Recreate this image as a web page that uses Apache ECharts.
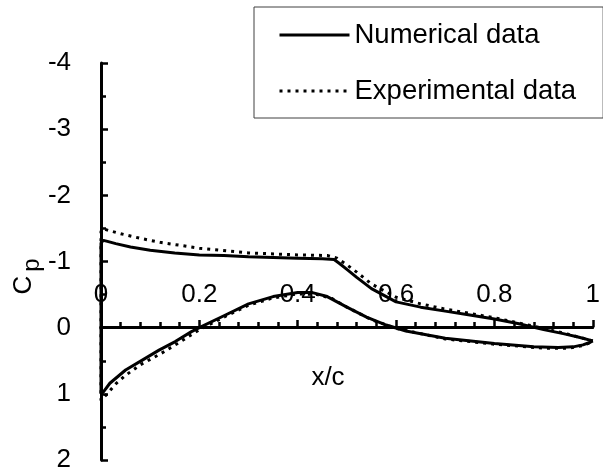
<!DOCTYPE html>
<html>
<head>
<meta charset="utf-8">
<script src="https://cdn.jsdelivr.net/npm/echarts@6/dist/echarts.min.js"></script>
<style>
  html, body { margin: 0; padding: 0; background: #fff; }
  #chart { width: 603px; height: 473px; }
</style>
</head>
<body>
<div id="chart"></div>
<script>
// Pressure coefficient around the aerofoil, traced trailing edge -> upper surface ->
// leading edge -> lower surface -> trailing edge.
const xNumerical = [1.0, 0.97, 0.94, 0.90, 0.85, 0.80, 0.75, 0.70, 0.65, 0.60, 0.55, 0.52, 0.50, 0.485, 0.474,
  0.45, 0.40, 0.35, 0.30, 0.25, 0.20, 0.15, 0.10, 0.06, 0.03, 0.015, 0.005, 0.0,
  0.0, 0.005, 0.018, 0.05, 0.084, 0.118, 0.151, 0.184, 0.20, 0.25, 0.30, 0.35, 0.40, 0.43, 0.46, 0.50,
  0.54, 0.58, 0.62, 0.70, 0.80, 0.88, 0.93, 0.96, 0.98, 0.995, 1.0];
const cpNumerical = [0.20, 0.14, 0.09, 0.03, -0.06, -0.13, -0.19, -0.25, -0.31, -0.39, -0.59, -0.76, -0.88, -0.97, -1.03,
  -1.04, -1.05, -1.06, -1.07, -1.09, -1.10, -1.13, -1.17, -1.22, -1.27, -1.30, -1.32, -1.28,
  1.0, 0.97, 0.84, 0.64, 0.49, 0.34, 0.21, 0.06, 0.0, -0.18, -0.36, -0.47, -0.53, -0.53, -0.47, -0.31,
  -0.16, -0.04, 0.05, 0.16, 0.24, 0.29, 0.30, 0.29, 0.26, 0.22, 0.20];

const xExperimental = [1.0, 0.95, 0.90, 0.85, 0.80, 0.70, 0.65, 0.60, 0.55, 0.52, 0.50, 0.48, 0.46,
  0.40, 0.30, 0.20, 0.12, 0.08, 0.04, 0.015, 0.003, 0.0,
  0.0, 0.004, 0.015, 0.03, 0.05, 0.08, 0.12, 0.16, 0.20, 0.25, 0.30, 0.35, 0.40, 0.44, 0.47, 0.50,
  0.55, 0.60, 0.70, 0.80, 0.90, 0.95, 0.98, 1.0];
const cpExperimental = [0.20, 0.10, 0.01, -0.07, -0.15, -0.28, -0.36, -0.46, -0.66, -0.84, -0.95, -1.05, -1.09,
  -1.10, -1.13, -1.20, -1.29, -1.35, -1.42, -1.47, -1.50, -1.45,
  1.1, 1.1, 0.98, 0.85, 0.72, 0.56, 0.40, 0.22, 0.03, -0.16, -0.34, -0.45, -0.51, -0.50, -0.44, -0.31,
  -0.12, 0.01, 0.17, 0.25, 0.31, 0.31, 0.27, 0.21];

const xTicks = [0, 0.2, 0.4, 0.6, 0.8, 1];
const seriesNames = ['Numerical data', 'Experimental data'];

const zip = (xs, ys) => xs.map((x, i) => [x, ys[i]]);

const FONT = 'Liberation Sans, Arial, sans-serif';
const GRID_TOP = 63, GRID_BOTTOM = 11, H = 473;
const Y_MIN = -4, Y_MAX = 2;
// vertical distance from the grid's bottom edge up to Cp = 0 (the x axis sits there)
const plotH = H - GRID_TOP - GRID_BOTTOM;
const zeroOffset = -plotH * (Y_MAX - 0) / (Y_MAX - Y_MIN);

const chart = echarts.init(document.getElementById('chart'), null, { renderer: 'canvas' });

chart.setOption({
  animation: false,
  backgroundColor: '#fff',
  textStyle: { fontFamily: FONT, color: '#000' },
  grid: { left: 101, right: 2, top: GRID_TOP, bottom: GRID_BOTTOM, containLabel: false },
  legend: {
    data: seriesNames,
    orient: 'vertical',
    left: 254,
    top: 7,
    padding: [14, 27, 13, 24],
    itemGap: 28,
    itemWidth: 70,
    itemHeight: 24,
    borderColor: '#404040',
    borderWidth: 1,
    lineStyle: { width: 3 },
    itemStyle: { color: 'rgba(0,0,0,0)', borderColor: 'rgba(0,0,0,0)', borderWidth: 0, opacity: 0 },
    textStyle: { fontFamily: FONT, fontSize: 27.5, color: '#000' }
  },
  xAxis: {
    type: 'value',
    position: 'bottom',
    offset: zeroOffset,
    min: 0,
    max: 1,
    interval: 0.2,
    axisLine: { onZero: false, lineStyle: { color: '#000', width: 3 } },
    axisTick: { inside: true, length: 7, lineStyle: { color: '#000', width: 2.5 } },
    minorTick: { show: true, splitNumber: 5, length: 5, lineStyle: { color: '#000', width: 2.5 } },
    splitLine: { show: false },
    axisLabel: {
      inside: true,
      margin: 19,
      fontFamily: FONT,
      fontSize: 26,
      color: '#000',
      showMaxLabel: true,
      showMinLabel: true,
      formatter: v => {
        const t = xTicks.find(k => Math.abs(k - v) < 1e-9);
        return t === undefined ? '' : String(t);
      }
    }
  },
  yAxis: {
    type: 'value',
    inverse: true,
    min: Y_MIN,
    max: Y_MAX,
    interval: 1,
    axisLine: { onZero: false, lineStyle: { color: '#000', width: 3 } },
    axisTick: { inside: true, length: 7, lineStyle: { color: '#000', width: 2.5 } },
    minorTick: { show: true, splitNumber: 2, length: 5, lineStyle: { color: '#000', width: 2.5 } },
    splitLine: { show: false },
    axisLabel: { margin: 30, fontFamily: FONT, fontSize: 26, color: '#000' }
  },
  series: [
    {
      name: seriesNames[0],
      type: 'line',
      symbol: 'none',
      clip: false,
      z: 3,
      lineStyle: { color: '#000', width: 3 },
      itemStyle: { color: '#000' },
      data: zip(xNumerical, cpNumerical)
    },
    {
      name: seriesNames[1],
      type: 'line',
      symbol: 'none',
      clip: false,
      z: 4,
      lineStyle: { color: '#000', width: 3, type: [3, 5] },
      itemStyle: { color: '#000' },
      data: zip(xExperimental, cpExperimental)
    }
  ],
  graphic: [
    {
      type: 'text',
      x: 24, y: 285,
      rotation: Math.PI / 2,
      style: { text: 'C', font: '26px ' + FONT, fill: '#000', align: 'center', verticalAlign: 'middle' }
    },
    {
      type: 'text',
      x: 32, y: 265,
      rotation: Math.PI / 2,
      style: { text: 'p', font: '24px ' + FONT, fill: '#000', align: 'center', verticalAlign: 'middle' }
    },
    {
      type: 'text',
      x: 328, y: 378,
      style: { text: 'x/c', font: '26px ' + FONT, fill: '#000', align: 'center', verticalAlign: 'middle' }
    }
  ]
});
</script>
</body>
</html>
